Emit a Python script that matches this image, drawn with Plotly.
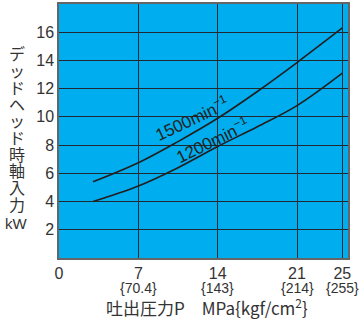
import plotly.graph_objects as go

# data
pressure_1500 = [3, 7, 10.5, 14, 17.5, 21, 25]
power_1500 = [5.4, 6.75, 8.25, 9.9, 11.8, 13.85, 16.3]
pressure_1200 = [3, 7, 10.5, 14, 17.5, 21, 25]
power_1200 = [4.0, 5.1, 6.4, 7.9, 9.3, 10.8, 13.1]
x_ticks = [0, 7, 14, 21, 25]
x_ticktext = ["0", "7", "14", "21", "25"]
kgf_ticks = [7, 14, 21, 25]
kgf_text = ["{70.4}", "{143}", "{214}", "{255}"]
y_ticks = [2, 4, 6, 8, 10, 12, 14, 16]
series_names = ["1500min<sup>−1</sup>", "1200min<sup>−1</sup>"]
y_title = "デッドヘッド時軸入力"
y_unit = "kW"
x_title = "吐出圧力P　MPa{kgf/cm<sup>2</sup>}"

font = "Liberation Sans, Arial, sans-serif"
nfont = "Liberation Sans Narrow, Arial Narrow, sans-serif"
jfont = "Noto Sans CJK JP, sans-serif"
txt = "#333333"

fig = go.Figure()
fig.add_trace(go.Scatter(x=pressure_1500, y=power_1500, mode="lines",
                         line=dict(color="#231f20", width=1.6, shape="spline"),
                         showlegend=False, hoverinfo="skip"))
fig.add_trace(go.Scatter(x=pressure_1200, y=power_1200, mode="lines",
                         line=dict(color="#231f20", width=1.6, shape="spline"),
                         showlegend=False, hoverinfo="skip"))

anns = []
anns.append(dict(x=11.7, y=9.95, xref="x", yref="y", text=series_names[0],
                 textangle=-25, showarrow=False, font=dict(family=nfont, size=17, color="#231f20")))
anns.append(dict(x=13.5, y=8.35, xref="x", yref="y", text=series_names[1],
                 textangle=-26, showarrow=False, font=dict(family=nfont, size=17, color="#231f20")))
for xv, t in zip(kgf_ticks, kgf_text):
    anns.append(dict(x=xv, y=-0.117, xref="x", yref="paper", text=t, showarrow=False,
                     font=dict(family=font, size=14, color=txt), xanchor="center", yanchor="middle"))
# vertical stacked y-axis title (one annotation per glyph for tight stacking)
for i, ch in enumerate(y_title):
    py = 53 + i * 16.8
    anns.append(dict(x=(16.5 - 59) / 289.5, y=(258.5 - py) / 255, xref="paper", yref="paper",
                     text=ch, showarrow=False, font=dict(family=jfont, size=16, color=txt),
                     xanchor="center", yanchor="middle", borderpad=0))
anns.append(dict(x=(16.5 - 59) / 289.5, y=(258.5 - 224) / 255, xref="paper", yref="paper",
                 text=y_unit, showarrow=False, font=dict(family=font, size=15, color=txt),
                 xanchor="center", yanchor="middle"))
anns.append(dict(x=0.511, y=-0.193, xref="paper", yref="paper",
                 text=x_title, showarrow=False, borderpad=0,
                 font=dict(family=jfont, size=17, color=txt), xanchor="center", yanchor="middle"))

fig.update_layout(
    width=360, height=320,
    margin=dict(l=59, r=11.5, t=3.5, b=61.5),
    paper_bgcolor="white", plot_bgcolor="#00aeef",
    annotations=anns,
    xaxis=dict(range=[0, 25.5], tickvals=x_ticks, ticktext=x_ticktext, showgrid=True,
               gridcolor="#1e2a30", gridwidth=1, zeroline=False, showline=True, linecolor="#666666",
               linewidth=1.5, mirror=True, ticks="", tickfont=dict(family=font, size=16, color=txt)),
    yaxis=dict(range=[0, 18], tickvals=y_ticks, showgrid=True, gridcolor="#1e2a30", gridwidth=1,
               zeroline=False, showline=True, linecolor="#666666", linewidth=1.5, mirror=True,
               ticks="", tickfont=dict(family=font, size=16, color=txt)),
)
fig.write_html("out.html", config={"displayModeBar": False},
               post_script="document.body.style.margin='0';document.body.style.padding='0';")
